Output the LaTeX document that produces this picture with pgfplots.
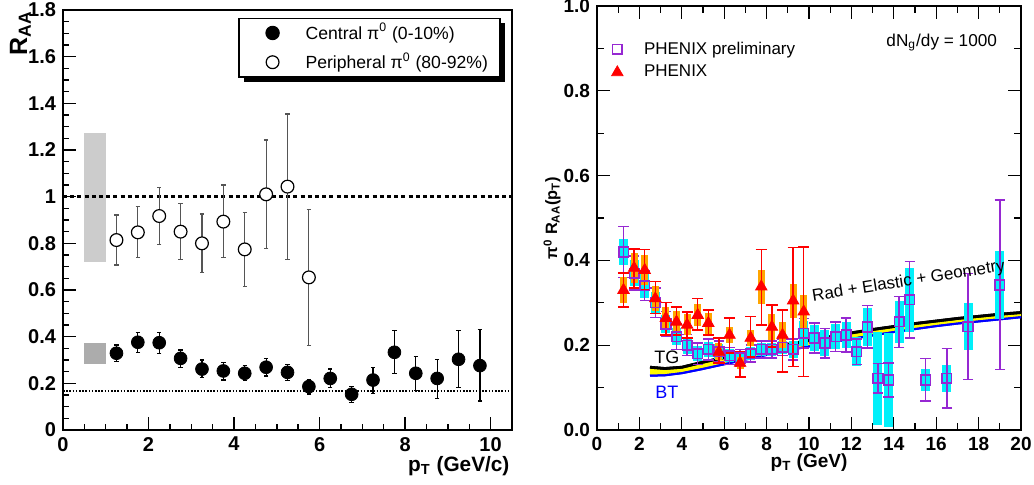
\documentclass[border=0pt]{standalone}
\usepackage{fontspec}
\setmainfont{Liberation Sans}
\usepackage{pgfplots}
\pgfplotsset{compat=1.18}
\usepackage{pgfplotstable}
\usepgfplotslibrary{fillbetween}
\usetikzlibrary{shadows}
\definecolor{phpurple}{RGB}{150,40,210}
\definecolor{phorange}{RGB}{255,165,0}
\definecolor{phcyan}{RGB}{0,240,250}
\definecolor{phyellow}{RGB}{255,250,0}
\definecolor{lgray}{RGB}{204,204,204}
\definecolor{dgray}{RGB}{172,172,172}
\definecolor{errgray}{RGB}{85,85,85}
\pgfplotsset{
  legleft/.style={legend image code/.code={\pgfpathrectangle{\pgfpoint{0cm}{-0.1cm}}{\pgfpoint{0.9cm}{0.2cm}}\pgfusepath{discard}\draw[mark repeat=2, mark phase=2, ##1] plot coordinates {(0cm,0cm) (0.45cm,0cm) (0.9cm,0cm)};}},
  legright/.style={legend image code/.code={\pgfpathrectangle{\pgfpoint{0cm}{-0.1cm}}{\pgfpoint{0.7cm}{0.2cm}}\pgfusepath{discard}\draw[mark repeat=2, mark phase=2, ##1] plot coordinates {(0cm,0cm) (0.35cm,0cm) (0.7cm,0cm)};}},
}

\pgfplotstableread{
x y ep em
1.25 0.814 0.107 0.107
1.75 0.847 0.110 0.108
2.25 0.917 0.122 0.121
2.75 0.850 0.121 0.119
3.25 0.800 0.126 0.124
3.75 0.893 0.157 0.154
4.25 0.774 0.159 0.160
4.75 1.010 0.233 0.231
5.25 1.043 0.311 0.312
5.75 0.654 0.292 0.293
}\periph

\pgfplotstableread{
x y ep em
1.25 0.329 0.035 0.036
1.75 0.376 0.043 0.043
2.25 0.374 0.045 0.045
2.75 0.307 0.036 0.038
3.25 0.261 0.039 0.035
3.75 0.253 0.036 0.039
4.25 0.243 0.033 0.032
4.75 0.269 0.037 0.038
5.25 0.247 0.034 0.036
5.75 0.186 0.028 0.032
6.25 0.221 0.040 0.040
6.75 0.153 0.033 0.034
7.25 0.214 0.053 0.057
7.75 0.333 0.093 0.090
8.25 0.243 0.071 0.074
8.75 0.221 0.082 0.085
9.25 0.303 0.123 0.122
9.75 0.276 0.153 0.152
}\central

\pgfplotstableread{
x y e s
1.25 0.420 0.060 0.030
1.75 0.370 0.040 0.030
2.25 0.340 0.035 0.028
2.75 0.300 0.035 0.025
3.25 0.250 0.030 0.022
3.75 0.220 0.030 0.020
4.25 0.200 0.025 0.020
4.75 0.180 0.025 0.018
5.25 0.190 0.025 0.018
5.75 0.185 0.025 0.018
6.25 0.175 0.020 0.015
6.75 0.170 0.020 0.015
7.25 0.180 0.020 0.015
7.75 0.190 0.020 0.015
8.25 0.190 0.020 0.015
8.75 0.195 0.020 0.015
9.25 0.190 0.025 0.020
9.75 0.228 0.035 0.030
10.25 0.217 0.035 0.030
10.75 0.205 0.035 0.030
11.25 0.220 0.035 0.030
11.75 0.224 0.040 0.030
12.25 0.185 0.030 0.035
12.75 0.243 0.050 0.045
13.25 0.122 0.035 0.110
13.75 0.118 0.040 0.110
14.25 0.255 0.060 0.050
14.75 0.307 0.090 0.075
15.50 0.118 0.050 0.025
16.50 0.122 0.070 0.032
17.50 0.244 0.125 0.055
19.00 0.342 0.200 0.080
}\prelim

\pgfplotstableread{
x y ep em s
1.25 0.330 0.040 0.040 0.030
1.75 0.382 0.045 0.047 0.035
2.25 0.377 0.048 0.047 0.035
2.75 0.310 0.040 0.035 0.030
3.25 0.264 0.036 0.040 0.025
3.75 0.255 0.035 0.031 0.025
4.25 0.248 0.030 0.031 0.025
4.75 0.271 0.039 0.035 0.025
5.25 0.252 0.031 0.028 0.025
5.75 0.184 0.033 0.026 0.020
6.25 0.224 0.040 0.042 0.020
6.75 0.158 0.026 0.033 0.015
7.25 0.217 0.050 0.045 0.020
7.75 0.338 0.087 0.090 0.040
8.25 0.243 0.052 0.047 0.030
8.75 0.224 0.059 0.087 0.030
9.25 0.305 0.125 0.155 0.040
9.75 0.279 0.153 0.153 0.040
}\phenix

\pgfplotstableread{
x tg bt
2.5 0.148 0.128
3.2 0.145 0.129
4 0.148 0.134
5 0.160 0.144
6 0.171 0.155
7 0.182 0.166
8 0.193 0.177
9 0.202 0.188
10 0.211 0.197
11 0.220 0.206
12 0.229 0.215
13 0.237 0.223
14 0.244 0.231
15 0.251 0.238
16 0.257 0.245
17 0.263 0.251
18 0.268 0.256
19 0.273 0.261
20 0.277 0.266
}\curves

\begin{document}
\begin{tikzpicture}
\path (0,0) rectangle (517pt,242.5pt);
% ---------------- left panel ----------------
\begin{axis}[
  at={(31.5pt,27.5pt)}, anchor=south west,
  scale only axis, width=224.5pt, height=210pt,
  xmin=0, xmax=10.5, ymin=0, ymax=1.8,
  xtick={0,2,4,6,8,10},
  ytick={0,0.2,0.4,0.6,0.8,1,1.2,1.4,1.6,1.8},
  minor x tick num=3, minor y tick num=3,
  tick pos=left, tick align=inside,
  major tick length=6.5pt, minor tick length=3pt,
  axis line style={line width=0.9pt},
  every tick/.style={black, line width=0.7pt},
  /pgf/number format/assume math mode=true,
  ticklabel style={font=\bfseries\fontsize{10}{12}\selectfont},
  xlabel={p\textsubscript{T} (GeV/c)},
  xlabel style={font=\bfseries\fontsize{10.4}{12}\selectfont, at={(axis description cs:1.01,-0.085)}, anchor=east},
  ylabel={R\textsubscript{AA}},
  ylabel style={font=\bfseries\fontsize{12.5}{14}\selectfont, at={(axis description cs:-0.095,1.015)}, anchor=east},
  legend style={at={(0.975,0.982)}, anchor=north east, draw=black, line width=0.8pt, fill=white,
    drop shadow={shadow xshift=2.5pt, shadow yshift=-2.5pt, fill=black, opacity=1},
    font=\fontsize{8.8}{10.5}\selectfont, inner xsep=4pt, inner ysep=0.5pt, row sep=1pt,
    /tikz/every odd column/.append style={column sep=1.7pt}},
  legend cell align=left,
]
\addplot[fill=lgray, draw=none, forget plot] coordinates {(0.5,0.722) (1.0,0.722) (1.0,1.272) (0.5,1.272)} -- cycle;
\addplot[fill=dgray, draw=none, forget plot] coordinates {(0.5,0.283) (1.0,0.283) (1.0,0.374) (0.5,0.374)} -- cycle;
\addplot[black, line width=1.3pt, dash pattern=on 2pt off 1.6pt, forget plot] coordinates {(0,1) (10.5,1)};
\addplot[black, line width=0.8pt, dash pattern=on 0.8pt off 0.8pt, forget plot] coordinates {(0,0.168) (10.5,0.168)};
\addplot[only marks, mark=*, mark size=3.2pt, mark options={fill=black, draw=black}, legleft,
  error bars/.cd, y dir=both, y explicit,
  error bar style={black, line width=0.6pt},
  error mark options={rotate=90, black, mark size=1.1pt, line width=0.6pt}]
  table[x=x, y=y, y error plus=ep, y error minus=em] {\central};
\addlegendentry{Central π\textsuperscript{0} (0-10\%)}
\addplot[only marks, mark=*, mark size=3.2pt, mark options={fill=white, draw=black, line width=0.6pt}, legleft,
  error bars/.cd, y dir=both, y explicit,
  error bar style={errgray, line width=0.6pt},
  error mark options={rotate=90, errgray, mark size=1.1pt, line width=0.6pt}]
  table[x=x, y=y, y error plus=ep, y error minus=em] {\periph};
\addlegendentry{Peripheral π\textsuperscript{0} (80-92\%)}
\end{axis}
% ---------------- right panel ----------------
\begin{axis}[
  at={(298.5pt,27.5pt)}, anchor=south west,
  scale only axis, width=212pt, height=212pt,
  xmin=0, xmax=20, ymin=0, ymax=1,
  xtick={0,2,...,20},
  ytick={0,0.2,0.4,0.6,0.8,1.0},
  minor x tick num=1, minor y tick num=1,
  tick align=inside,
  major tick length=6.3pt, minor tick length=3.3pt,
  axis line style={line width=0.8pt},
  every tick/.style={black, line width=0.6pt},
  /pgf/number format/assume math mode=true,
  ticklabel style={font=\bfseries\fontsize{9.5}{11}\selectfont},
  yticklabel style={/pgf/number format/.cd, fixed, fixed zerofill, precision=1},
  xlabel={p\textsubscript{T} (GeV)},
  xlabel style={font=\bfseries\fontsize{9.5}{11}\selectfont, at={(axis description cs:0.5,-0.078)}, anchor=center},
  ylabel={π\textsuperscript{0} R\textsubscript{AA}(p\textsubscript{T})},
  ylabel style={font=\bfseries\fontsize{8.2}{10}\selectfont, at={(axis description cs:-0.106,0.5)}, anchor=center},
  legend style={at={(axis description cs:0.0,0.926)}, anchor=north west, draw=none, fill=none,
    font=\fontsize{8.5}{10}\selectfont, inner xsep=0pt, inner ysep=0pt, row sep=0pt,
    /tikz/every odd column/.append style={column sep=1.4pt}},
  legend cell align=left,
]
% theory curves
\addplot[name path=tg, black, line width=1.4pt, forget plot] table[x=x, y=tg] {\curves};
\addplot[name path=bt, blue, line width=1pt, forget plot] table[x=x, y=bt] {\curves};
\addplot[phyellow, forget plot] fill between[of=tg and bt];
\addplot[black, line width=1.4pt, forget plot] table[x=x, y=tg] {\curves};
\addplot[blue, line width=1pt, forget plot] table[x=x, y=bt] {\curves};
% preliminary: systematic bands then stat bars
\addplot[draw=none, mark=none, forget plot,
  error bars/.cd, y dir=both, y explicit, error mark=none,
  error bar style={draw=phcyan, line width=4.5pt}]
  table[x=x, y=y, y error=s] {\prelim};
\addplot[only marks, mark=square, mark size=2.4pt, mark options={draw=phpurple, fill=none, line width=0.8pt}, legright,
  error bars/.cd, y dir=both, y explicit,
  error bar style={phpurple, line width=0.7pt},
  error mark options={rotate=90, phpurple, mark size=2.6pt, line width=0.7pt}]
  table[x=x, y=y, y error=e] {\prelim};
\addlegendentry{PHENIX preliminary}
% PHENIX: systematic bands then stat bars
\addplot[draw=none, mark=none, forget plot,
  error bars/.cd, y dir=both, y explicit, error mark=none,
  error bar style={draw=phorange, line width=3.5pt}]
  table[x=x, y=y, y error=s] {\phenix};
\addplot[only marks, mark=triangle*, mark size=3.3pt, mark options={draw=red, fill=red}, legright,
  error bars/.cd, y dir=both, y explicit,
  error bar style={red, line width=0.7pt},
  error mark options={rotate=90, red, mark size=2.8pt, line width=0.7pt}]
  table[x=x, y=y, y error plus=ep, y error minus=em] {\phenix};
\addlegendentry{PHENIX}
\node[rotate=9, font=\fontsize{8.5}{10}\selectfont] at (axis cs:14.7,0.35) {Rad + Elastic + Geometry};
\node[font=\fontsize{9}{10}\selectfont, black] at (axis cs:3.3,0.172) {TG};
\node[font=\fontsize{9}{10}\selectfont, blue] at (axis cs:3.3,0.09) {BT};
\node[font=\fontsize{8.6}{10}\selectfont, anchor=base east] at (axis cs:19.2,0.904) {dN\textsubscript{g}/dy = 1000};
\end{axis}
\pgfresetboundingbox
\path[use as bounding box] (0,0) rectangle (517pt,242.5pt);
\end{tikzpicture}
\end{document}
